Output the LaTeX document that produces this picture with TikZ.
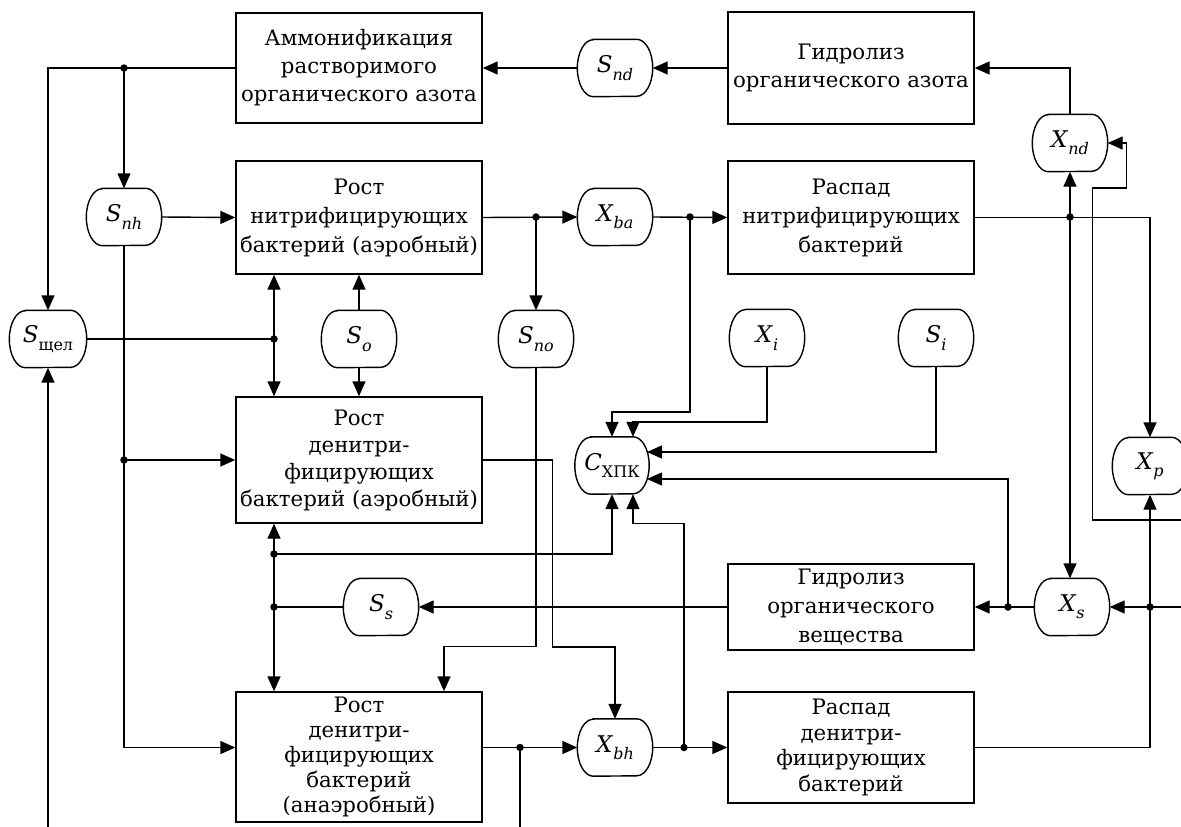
\documentclass[tikz,border=0pt]{standalone}
\usepackage{fontspec}
\setmainfont{DejaVu Serif}
\usetikzlibrary{arrows.meta,calc}
\newcommand{\stlab}[2]{\textit{#1}\raisebox{-0.32em}{\fontsize{16}{16}\selectfont\textit{#2}}}
\newcommand{\stlabu}[2]{\textit{#1}\raisebox{-0.32em}{\fontsize{16}{16}\selectfont #2}}
\newcommand{\stnode}[4][75pt]{%
  \node[st,minimum width=#1] (#2) at (#3) {#4};
  \draw[ln] ($(#2.north west)+(16pt,0pt)$) -- ($(#2.north east)+(-16pt,0pt)$)
    arc[start angle=90,end angle=-90,x radius=16pt,y radius=28.5pt]
    -- ($(#2.south west)+(16pt,0pt)$)
    arc[start angle=270,end angle=90,x radius=16pt,y radius=28.5pt] -- cycle;}
\begin{document}
\begin{tikzpicture}[x=1pt,y=-1pt,
  box/.style={draw,line width=1.4pt,minimum width=246pt,inner sep=0pt,align=center,font=\fontsize{21.3}{28}\selectfont},
  st/.style={minimum height=57pt,inner sep=0pt,font=\fontsize{23}{23}\selectfont},
  ln/.style={line width=1.4pt},
  arr/.style={ln,-{Triangle[length=15pt,width=13pt]}},
  dblarr/.style={ln,{Triangle[length=15pt,width=13pt]}-{Triangle[length=15pt,width=13pt]}},
  dot/.style={circle,fill,inner sep=0pt,minimum size=7.5pt}]
\useasboundingbox (0,0) rectangle (1181,827);
\fill[white] (0,0) rectangle (1181,827);
% boxes
\node[box,minimum height=110pt] (amm) at (359,68) {Аммонификация\\растворимого\\органического азота};
\node[box,minimum height=112pt] (gidaz) at (851,68) {Гидролиз\\органического азота};
\node[box,minimum height=113pt,font=\fontsize{21.3}{29}\selectfont] (rostn) at (359,217.5) {Рост\\нитрифицирующих\\бактерий (аэробный)};
\node[box,minimum height=113pt,font=\fontsize{21.3}{29}\selectfont] (raspn) at (851,217.5) {Распад\\нитрифицирующих\\бактерий};
\node[box,minimum height=126pt,font=\fontsize{21.3}{27}\selectfont] (rostda) at (359,460) {Рост\\денитри-\\фицирующих\\бактерий (аэробный)};
\node[box,minimum height=86pt,font=\fontsize{21.3}{29}\selectfont] (gidov) at (851,607) {Гидролиз\\органического\\вещества};
\node[box,minimum height=130pt,font=\fontsize{21.3}{25}\selectfont] (rostdan) at (359,757) {Рост\\денитри-\\фицирующих\\бактерий\\(анаэробный)};
\node[box,minimum height=111pt,font=\fontsize{21.3}{25.5}\selectfont] (raspd) at (851,747.5) {Распад\\денитри-\\фицирующих\\бактерий};
% state nodes
\stnode{Snd}{615,68}{\stlab{S}{nd}}
\stnode{Snh}{124,217}{\stlab{S}{nh}}
\stnode{Xba}{615,217}{\stlab{X}{ba}}
\stnode{Xnd}{1070,143}{\stlab{X}{nd}}
\stnode[77pt]{Sshch}{48,339}{\stlabu{S}{щел}}
\stnode{So}{359,339}{\stlab{S}{o}}
\stnode{Sno}{536,339}{\stlab{S}{no}}
\stnode{Xi}{767,338}{\stlab{X}{i}}
\stnode{Si}{936,338}{\stlab{S}{i}}
\stnode[74pt]{C}{612,465.5}{\stlabu{C}{ХПК}}
\stnode{Xp}{1150,466}{\stlab{X}{p}}
\stnode{Xs}{1072,607}{\stlab{X}{s}}
\stnode{Ss}{381,607}{\stlab{S}{s}}
\stnode{Xbh}{615,747.5}{\stlab{X}{bh}}
% junctions
\coordinate (j1) at (124,68);
\coordinate (j2) at (536,217);
\coordinate (j3) at (690,217);
\coordinate (j4) at (1070,217);
\coordinate (j5) at (274,339);
\coordinate (j6) at (124,460);
\coordinate (j7) at (274,554);
\coordinate (j8) at (274,607);
\coordinate (j9) at (1008,607);
\coordinate (j10) at (1150,607);
\coordinate (j11) at (520,747.5);
\coordinate (j12) at (684,747.5);
\coordinate (bot1) at (48,835);
\coordinate (bot2) at (520,835);
\coordinate (r1) at (1190,520);
\coordinate (r2) at (1190,607);
% connectors
\draw[arr] (Snd.west) -- (amm.east);
\draw[arr] (gidaz.west) -- (Snd.east);
\draw[arr] (Xnd.north) |- (gidaz.east);
\draw[ln] (amm.west) -- (j1);
\draw[arr] (j1) -| (Sshch.north);
\draw[arr] (j1) -- (Snh.north);
\draw[arr] (Snh.east) -- (rostn.west);
\draw[arr] (rostn.east) -- (Xba.west);
\draw[arr] (j2) -- (Sno.north);
\draw[arr] (Xba.east) -- (raspn.west);
\draw[arr] (j3) |- ($(C.north)+(0,-25)$) -- (C.north);
\draw[arr] (Xi.south) |- ($(C.north)+(21,-15)$) -- ($(C.north)+(21,0)$);
\draw[arr] (Si.south) |- ($(C.center)+(35,-13.5)$);
\draw[arr] (j9) |- ($(C.center)+(35,13.5)$);
\draw[arr] (j7) -| (C.south);
\draw[arr] (j12) |- ($(C.south)+(21,29)$) -- ($(C.south)+(21,0)$);
\draw[ln] (Sshch.east) -- (j5);
\draw[dblarr] (rostn.south -| j5) -- (rostda.north -| j5);
\draw[arr] (So.north) -- (rostn.south);
\draw[arr] (So.south) -- (rostda.north);
\draw[arr] (j6) -- (rostda.west);
\draw[arr] (Snh.south) |- (rostdan.west |- j11);
\draw[arr] (rostda.east) -- ++(70,0) |- ($(Xbh.north)+(0,-72)$) -- (Xbh.north);
\draw[arr] (Sno.south) |- ($(rostdan.north)+(85,-45)$) -- ($(rostdan.north)+(85,0)$);
\draw[dblarr] (rostda.south -| j7) -- (rostdan.north -| j7);
\draw[ln] (Ss.west) -- (j8);
\draw[arr] (gidov.west) -- (Ss.east);
\draw[arr] (rostdan.east |- Xbh.west) -- (Xbh.west);
\draw[ln] (j11) -- (bot2);
\draw[arr] (bot1) -- (Sshch.south);
\draw[arr] (Xbh.east) -- (raspd.west);
\draw[arr] (raspd.east) -| (Xp.south);
\draw[arr] (j10) -- (Xs.east);
\draw[ln] (r2) -- (j10);
\draw[arr] (Xs.west) -- (gidov.east);
\draw[arr] (raspn.east) -| (Xp.north);
\draw[arr] (j4) -- (Xnd.south);
\draw[arr] (j4) -- (j4 |- Xs.north);
\draw[arr] (r1) -| ($(Xnd.east)+(-15,45)$) -| ($(Xnd.east)+(19,0)$) -- (Xnd.east);
% dots
\foreach \j in {j1,j2,j3,j4,j5,j6,j7,j8,j9,j10,j11,j12} \node[dot] at (\j) {};
\end{tikzpicture}
\end{document}
